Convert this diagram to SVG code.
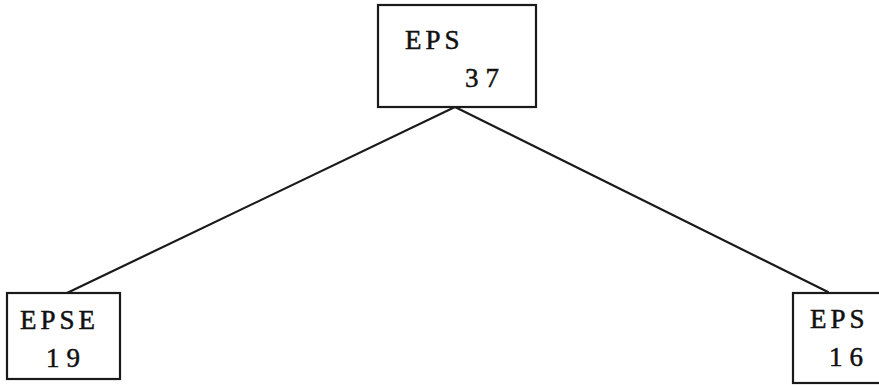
<svg xmlns="http://www.w3.org/2000/svg" width="879" height="385" viewBox="0 0 879 385">
  <style>
    .box { fill: #fff; stroke: #1a1a1a; stroke-width: 2.2; }
    .edge { stroke: #1a1a1a; stroke-width: 2.2; fill: none; stroke-linecap: round; }
    .lbl { font-family: "Liberation Serif", "DejaVu Serif", serif; font-size: 27px; letter-spacing: 4px; fill: #111; stroke: #111; stroke-width: 0.5; }
    .num { letter-spacing: 7px; }
  </style>
  <rect width="879" height="385" fill="#fff"/>
  <g id="connectors">
    <line class="edge" x1="455" y1="107" x2="67" y2="293"/>
    <line class="edge" x1="455" y1="107" x2="828" y2="292"/>
  </g>
  <g id="node-root">
    <rect class="box" x="378" y="5" width="158" height="102"/>
    <text class="lbl" x="405" y="49">EPS</text>
    <text class="lbl num" x="465" y="87">37</text>
  </g>
  <g id="node-left">
    <rect class="box" x="7" y="293" width="113" height="86"/>
    <text class="lbl" x="20" y="329">EPSE</text>
    <text class="lbl num" x="46" y="367">19</text>
  </g>
  <g id="node-right">
    <rect class="box" x="793" y="293" width="100" height="90"/>
    <text class="lbl" x="810" y="328">EPS</text>
    <text class="lbl num" x="829" y="366">16</text>
  </g>
</svg>
